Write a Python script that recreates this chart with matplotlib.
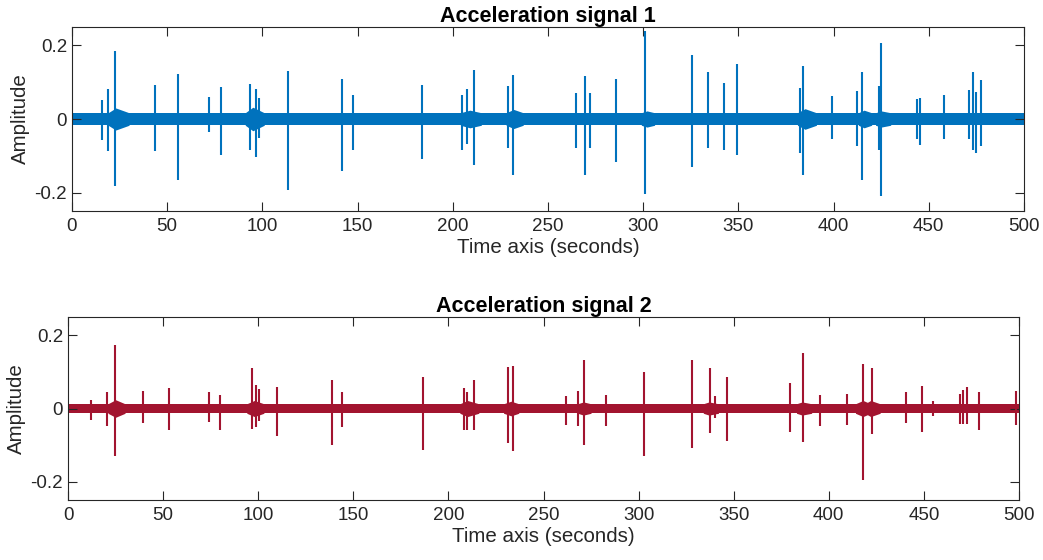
import matplotlib
matplotlib.use("Agg")
import matplotlib.pyplot as plt
from matplotlib.ticker import FixedLocator, FuncFormatter

BLUE, RED = "#0072bd", "#a2142f"
AX = "#262626"

plt.rcParams.update({
    "font.family": ["Liberation Sans", "DejaVu Sans"],
    "font.size": 13.5,
    "axes.edgecolor": AX, "axes.linewidth": 0.8,
    "xtick.color": AX, "ytick.color": AX,
    "xtick.direction": "in", "ytick.direction": "in",
    "xtick.top": True, "ytick.right": True,
    "xtick.major.size": 6.5, "ytick.major.size": 6.5,
    "xtick.major.width": 0.8, "ytick.major.width": 0.8,
    "xtick.major.pad": 5, "ytick.major.pad": 3.5,
})

# spike events: time (s), peak and trough amplitude
sig1_t = [15.6, 18.7, 22.6, 43.6, 55.7, 72.0, 78.3, 93.7, 96.6, 98.0, 113.3,
          141.6, 147.4, 184.0, 204.8, 207.6, 211.0, 229.2, 231.8, 264.5, 269.3,
          272.0, 285.7, 301.1, 325.5, 334.2, 342.6, 349.1, 382.4, 384.1, 399.3,
          412.3, 415.1, 424.0, 425.1, 443.6, 445.6, 457.8, 471.3, 473.2, 474.8, 477.2]
sig1_hi = [0.052, 0.081, 0.184, 0.093, 0.123, 0.061, 0.087, 0.095, 0.081, 0.057, 0.130,
           0.109, 0.066, 0.093, 0.065, 0.082, 0.132, 0.090, 0.120, 0.072, 0.116,
           0.070, 0.109, 0.239, 0.173, 0.128, 0.098, 0.150, 0.084, 0.145, 0.063,
           0.077, 0.128, 0.089, 0.207, 0.055, 0.058, 0.064, 0.078, 0.128, 0.073, 0.107]
sig1_lo = [-0.056, -0.088, -0.181, -0.088, -0.165, -0.035, -0.099, -0.085, -0.103, -0.052, -0.193,
           -0.140, -0.083, -0.110, -0.083, -0.067, -0.126, -0.078, -0.151, -0.080, -0.151,
           -0.080, -0.117, -0.205, -0.131, -0.080, -0.085, -0.097, -0.092, -0.153, -0.053,
           -0.074, -0.165, -0.085, -0.210, -0.055, -0.071, -0.053, -0.055, -0.085, -0.092, -0.074]

sig2_t = [12.1, 20.3, 24.7, 39.6, 53.3, 74.3, 80.0, 96.6, 98.7, 100.4, 109.9,
          138.6, 143.9, 186.5, 208.2, 209.9, 213.5, 231.5, 234.1, 261.8, 268.3,
          271.3, 282.9, 302.8, 328.1, 337.5, 340.0, 346.3, 379.6, 386.4, 395.4,
          409.7, 417.8, 422.5, 440.6, 448.8, 454.8, 469.0, 470.7, 472.8, 479.1, 498.2]
sig2_hi = [0.024, 0.045, 0.173, 0.047, 0.057, 0.044, 0.038, 0.110, 0.063, 0.054, 0.060,
           0.077, 0.045, 0.086, 0.057, 0.045, 0.079, 0.113, 0.115, 0.034, 0.048,
           0.133, 0.036, 0.101, 0.133, 0.110, 0.034, 0.086, 0.069, 0.153, 0.036,
           0.040, 0.122, 0.110, 0.044, 0.062, 0.020, 0.040, 0.050, 0.060, 0.045, 0.047]
sig2_lo = [-0.030, -0.048, -0.129, -0.039, -0.060, -0.036, -0.060, -0.056, -0.050, -0.033, -0.074,
           -0.101, -0.051, -0.112, -0.058, -0.060, -0.058, -0.095, -0.117, -0.045, -0.047,
           -0.101, -0.047, -0.129, -0.108, -0.068, -0.025, -0.090, -0.063, -0.092, -0.047,
           -0.045, -0.195, -0.070, -0.040, -0.063, -0.020, -0.043, -0.043, -0.043, -0.060, -0.045]

# ringing around the bigger hits: start, loudest moment, end, half-width there
ring1_t0 = [19, 91, 204, 228, 299, 381, 413, 422]
ring1_pk = [23, 95, 209, 232, 302, 385, 416, 425]
ring1_t1 = [30, 101, 215, 237, 306, 391, 420, 430]
ring1_amp = [0.030, 0.032, 0.024, 0.026, 0.022, 0.028, 0.024, 0.022]
ring2_t0 = [21, 94, 206, 229, 268, 334, 383, 414, 419]
ring2_pk = [25, 98, 210, 233, 271, 337, 386, 418, 422]
ring2_t1 = [30, 103, 216, 237, 275, 342, 391, 422, 427]
ring2_amp = [0.024, 0.022, 0.022, 0.020, 0.018, 0.018, 0.018, 0.022, 0.022]

# background noise half-width
noise1, noise2 = 0.017, 0.013
T_END = 500
YTICKS = [-0.2, 0, 0.2]


def fmt(v, _):
    return "0" if abs(v) < 1e-9 else f"{v:g}"


def panel(ax, t, hi, lo, r0, rp, r1, ramp, noise, color, title):
    ax.fill_between([0, T_END], [-noise, -noise], [noise, noise], color=color, lw=0)
    for a, p, b, amp in zip(r0, rp, r1, ramp):
        ax.fill_between([a, p, b], [-noise, -amp, -noise], [noise, amp, noise],
                        color=color, lw=0)
    ax.vlines(t, lo, hi, color=color, lw=1.5)
    ax.set_xlim(0, T_END)
    ax.set_ylim(-0.25, 0.25)
    ax.xaxis.set_major_locator(FixedLocator(range(0, T_END + 1, 50)))
    ax.yaxis.set_major_locator(FixedLocator(YTICKS))
    ax.yaxis.set_major_formatter(FuncFormatter(fmt))
    ax.set_title(title, fontweight="bold", fontsize=15.5, color="black", pad=3)
    ax.set_xlabel("Time axis (seconds)", fontsize=14.8, color=AX, labelpad=2)
    ax.set_ylabel("Amplitude", fontsize=14.8, color=AX, labelpad=3)


fig = plt.figure(figsize=(10.43, 5.6), dpi=100)
ax1 = fig.add_axes([0.069, 0.6232, 0.9128, 0.3286])
ax2 = fig.add_axes([0.0652, 0.1071, 0.9118, 0.3268])
panel(ax1, sig1_t, sig1_hi, sig1_lo, ring1_t0, ring1_pk, ring1_t1, ring1_amp, noise1,
      BLUE, "Acceleration signal 1")
panel(ax2, sig2_t, sig2_hi, sig2_lo, ring2_t0, ring2_pk, ring2_t1, ring2_amp, noise2,
      RED, "Acceleration signal 2")

fig.savefig("out.png", dpi=100, facecolor="white")
